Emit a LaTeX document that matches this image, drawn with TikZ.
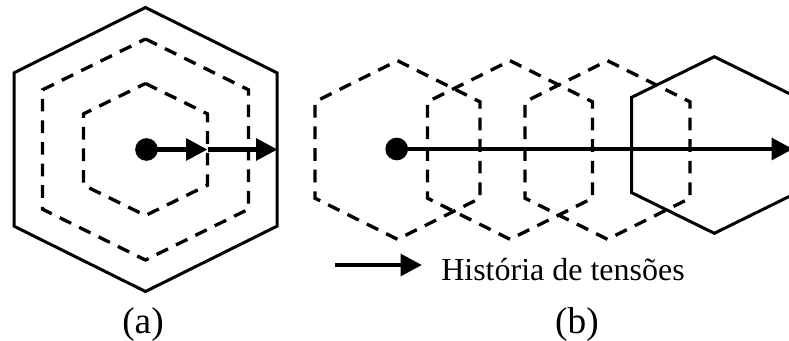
\documentclass[tikz,border=0pt]{standalone}
\usepackage{fontspec}
\setmainfont{Liberation Serif}
\usetikzlibrary{%
	arrows.meta,%
	calc
}

% hexagon: style, centre x, centre y, half width, half height
\newcommand{\hexagono}[5]{%
	\draw[#1] (#2,#3-#5) -- (#2+#4,#3-0.54*#5) -- (#2+#4,#3+0.54*#5)
		-- (#2,#3+#5) -- (#2-#4,#3+0.54*#5) -- (#2-#4,#3-0.54*#5) -- cycle;}

\tikzset{
	cheia/.style={line width=2.25pt, line join=miter},
	tracejada/.style={line width=2.5pt, dash pattern=on 9.5pt off 6.7pt},
	seta/.style={line width=3.4pt, -{Triangle[length=16pt,width=16pt]}},
	ponto/.style={circle, fill, inner sep=0pt, minimum size=17pt},
	rotulo/.style={font=\fontsize{28}{30}\selectfont, anchor=base},
}

\begin{document}
\begin{tikzpicture}[x=0.75pt, y=-0.75pt]
		\useasboundingbox (0,0) rectangle (789,340);

		% (a) yield surfaces growing about the centre
		\hexagono{cheia}{145.5}{149.5}{131.5}{142}
		\hexagono{tracejada}{145.5}{149.5}{103}{110.5}
		\hexagono{tracejada}{145.5}{149.5}{62}{66}

		\node[ponto] (pa) at (146.5,149.5) {};
		\coordinate (a1) at (207.5,149.5);
		\coordinate (a2) at (277.5,149.5);
		\draw[seta] (pa.center) -- (a1);
		\draw[seta] (a1) -- (a2);

		% (b) surface moving along the path
		\hexagono{tracejada}{397.5}{150}{82.5}{89.3}
		\hexagono{tracejada}{510}{150}{82.5}{89.3}
		\hexagono{tracejada}{607.5}{150}{82.5}{89.3}
		\hexagono{cheia}{714.3}{145}{82.6}{88.3}

		\node[ponto] (pb) at (396.7,149) {};
		\coordinate (b1) at (793,149);
		\draw[seta] (pb.center) -- (b1);

		% legend
		\coordinate (l0) at (335,265);
		\coordinate (l1) at (422,265);
		\draw[seta] (l0) -- (l1);
		\node[anchor=base west, inner sep=0pt, font=\fontsize{24}{26}\selectfont] (legenda) at (441,280) {História de tensões};

		% captions
		\node[rotulo] (ra) at (143,333) {(a)};
		\node[rotulo] (rb) at (577,333) {(b)};
	\end{tikzpicture}
\end{document}
